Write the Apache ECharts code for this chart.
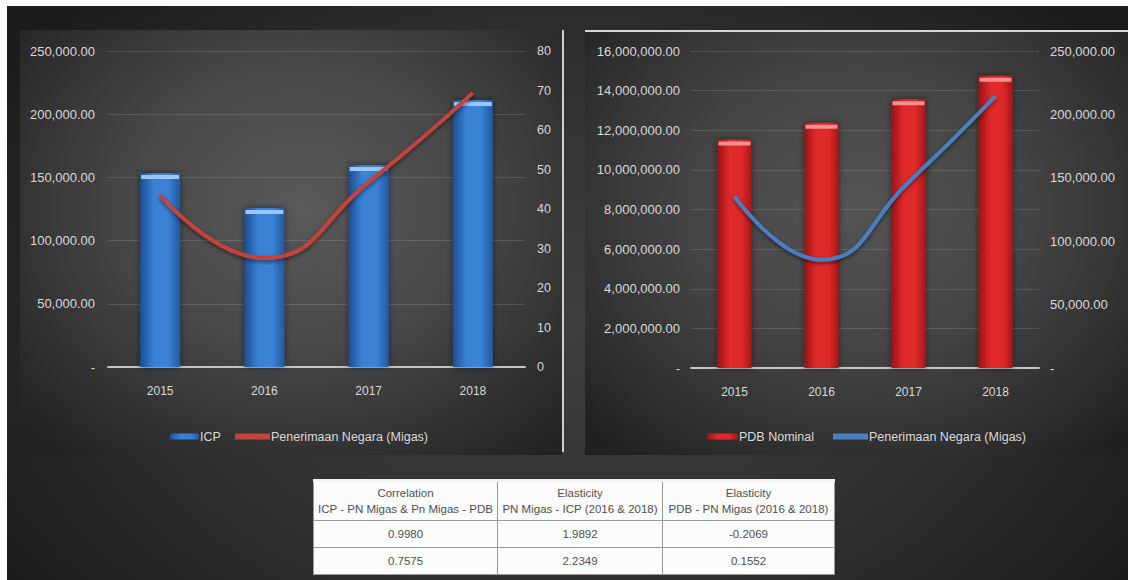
<!DOCTYPE html>
<html>
<head>
<meta charset="utf-8">
<title>ICP, PDB Nominal &amp; Penerimaan Negara (Migas)</title>
<script src="https://cdn.jsdelivr.net/npm/echarts@6/dist/echarts.min.js"></script>
<style>
  html, body { margin: 0; padding: 0; background: #ffffff; }
  #stage { position: absolute; left: 0; top: 0; width: 1128px; height: 580px; overflow: hidden; background: #ffffff; }
  #backdrop {
    position: absolute; left: 7px; top: 6px; width: 1121px; height: 574px;
    background: radial-gradient(ellipse 60% 80% at 50% 55%, #3e3e3e 0%, #313131 55%, #1c1c1c 100%);
  }
  #panelL {
    position: absolute; left: 20px; top: 30px; width: 542px; height: 425px;
    background: radial-gradient(ellipse 70% 75% at 52% 42%, #595959 0%, #484848 45%, #2f2f2f 80%, #222222 100%);
  }
  #dividerL { position: absolute; left: 562px; top: 30px; width: 2px; height: 422px; background: #cfcfcf; }
  #panelR {
    position: absolute; left: 585px; top: 30px; width: 543px; height: 425px;
    border-top: 2px solid #d6d6d6; box-sizing: border-box;
    background: radial-gradient(ellipse 70% 75% at 50% 42%, #545454 0%, #444444 45%, #2e2e2e 80%, #202020 100%);
  }
  #chart { position: absolute; left: 0; top: 0; width: 1128px; height: 580px; }
  #stats {
    position: absolute; left: 313px; top: 479px; width: 521px;
    border-collapse: collapse; background: #fbfbfb; table-layout: fixed;
    border-top: 3px solid #f2f2f2;
    font-family: 'Liberation Sans', Arial, sans-serif;
    font-size: 11.5px; color: #505050; text-align: center; white-space: nowrap;
  }
  #stats td { border: 1px solid #9a9a9a; padding: 0; overflow: hidden; }
  #stats td.head { height: 38px; line-height: 16px; }
  #stats td.val { height: 26px; }
</style>
</head>
<body>
<div id="stage">
  <div id="backdrop"></div>
  <div id="panelL"></div>
  <div id="dividerL"></div>
  <div id="panelR"></div>
  <div id="chart"></div>
  <table id="stats"></table>
</div>
<script>
// Years on the category axes
const years = ['2015', '2016', '2017', '2018'];

// Left chart: ICP bars (left axis) and Penerimaan Negara (Migas) line (right axis)
const icpValues = [153500, 125800, 159800, 211200];
const migasLeftValues = [43.5, 27.6, 46.8, 69.4];

// Right chart: PDB Nominal bars (left axis) and Penerimaan Negara (Migas) line (right axis)
const pdbValues = [11530000, 12380000, 13560000, 14750000];
const migasRightValues = [135300, 85400, 146500, 214400];

// Axis ranges
const icpAxis = { min: 0, max: 250000, interval: 50000 };
const migasLeftAxis = { min: 0, max: 80, interval: 10 };
const pdbAxis = { min: 0, max: 16000000, interval: 2000000 };
const migasRightAxis = { min: 0, max: 250000, interval: 50000 };

// Statistics table
const tableHeads = [
  ['Correlation', 'ICP - PN Migas & Pn Migas - PDB'],
  ['Elasticity', 'PN Migas - ICP (2016 & 2018)'],
  ['Elasticity', 'PDB - PN Migas (2016 & 2018)']
];
const tableRows = [
  ['0.9980', '1.9892', '-0.2069'],
  ['0.7575', '2.2349', '0.1552']
];
const tableColWidths = [184, 165, 172];

const FONT = "'Liberation Sans', Arial, sans-serif";
const TEXT = '#d9d9d9';

function money(v) {
  if (v === 0) return '-';
  return v.toLocaleString('en-US', { minimumFractionDigits: 2, maximumFractionDigits: 2 });
}

function barGradient(edgeL, mid, edgeR) {
  return new echarts.graphic.LinearGradient(0, 0, 1, 0, [
    { offset: 0, color: edgeL },
    { offset: 0.35, color: mid },
    { offset: 0.7, color: mid },
    { offset: 1, color: edgeR }
  ]);
}

const blueBar = barGradient('#1d4e8f', '#3a82d6', '#2458a0');
const redBar = barGradient('#9a1212', '#e02a2a', '#a81616');

function xAxisFor(gridIndex) {
  return {
    type: 'category', gridIndex: gridIndex, data: years,
    axisLine: { lineStyle: { color: '#c4c4c4', width: 2 } },
    axisTick: { show: false },
    axisLabel: { color: TEXT, fontSize: 12, fontFamily: FONT, margin: 18 }
  };
}

function yAxisFor(gridIndex, range, side, margin, grid, fmt, size) {
  return {
    type: 'value', gridIndex: gridIndex, position: side,
    min: range.min, max: range.max, interval: range.interval,
    axisLine: { show: false }, axisTick: { show: false },
    axisLabel: { color: TEXT, fontSize: size, fontFamily: FONT, margin: margin, formatter: fmt },
    splitLine: { show: grid, lineStyle: { color: 'rgba(255,255,255,0.13)', width: 1 } }
  };
}

function legendAt(left, name, icon, width) {
  return {
    left: left, top: 425, itemWidth: width, itemHeight: 6, itemGap: 0,
    textStyle: { color: TEXT, fontSize: 12.5, fontFamily: FONT, padding: [0, 0, 0, -4] },
    data: [{ name: name, icon: icon }]
  };
}

const lineShadow = { shadowBlur: 4, shadowColor: 'rgba(0,0,0,0.55)', shadowOffsetY: 2 };

const option = {
  animation: false,
  backgroundColor: 'transparent',
  textStyle: { fontFamily: FONT },
  grid: [
    { left: 108, top: 51, width: 417, height: 316 },
    { left: 691, top: 51, width: 348, height: 317 }
  ],
  xAxis: [xAxisFor(0), xAxisFor(1)],
  yAxis: [
    yAxisFor(0, icpAxis, 'left', 13, true, money, 13),
    yAxisFor(0, migasLeftAxis, 'right', 12, false, v => String(v), 12.5),
    yAxisFor(1, pdbAxis, 'left', 11, true, money, 13),
    yAxisFor(1, migasRightAxis, 'right', 11, false, money, 13)
  ],
  legend: [
    legendAt(165, 'ICP', 'roundRect', 29),
    legendAt(230, 'Penerimaan Negara (Migas)', 'rect', 35),
    legendAt(702, 'PDB Nominal', 'roundRect', 31),
    legendAt(828, 'Penerimaan Negara (Migas) ', 'rect', 35)
  ],
  series: [
    {
      name: 'ICP', type: 'bar', xAxisIndex: 0, yAxisIndex: 0, data: icpValues,
      barWidth: 40,
      itemStyle: { color: blueBar, shadowBlur: 6, shadowColor: 'rgba(0,0,0,0.5)' }
    },
    {
      name: 'ICP cap', type: 'pictorialBar', xAxisIndex: 0, yAxisIndex: 0, data: icpValues,
      symbol: 'rect', symbolSize: [38, 4], symbolPosition: 'end', symbolOffset: [0, '50%'],
      itemStyle: { color: '#9cc6f4' }, silent: true, z: 3
    },
    {
      name: 'Penerimaan Negara (Migas)', type: 'line', xAxisIndex: 0, yAxisIndex: 1,
      data: migasLeftValues, smooth: 0.5, symbol: 'none',
      itemStyle: { color: '#c6433d' },
      lineStyle: Object.assign({ color: '#c6433d', width: 4 }, lineShadow), z: 4
    },
    {
      name: 'PDB Nominal', type: 'bar', xAxisIndex: 1, yAxisIndex: 2, data: pdbValues,
      barWidth: 34,
      itemStyle: { color: redBar, shadowBlur: 6, shadowColor: 'rgba(0,0,0,0.5)' }
    },
    {
      name: 'PDB cap', type: 'pictorialBar', xAxisIndex: 1, yAxisIndex: 2, data: pdbValues,
      symbol: 'rect', symbolSize: [32, 4], symbolPosition: 'end', symbolOffset: [0, '50%'],
      itemStyle: { color: '#f29090' }, silent: true, z: 3
    },
    {
      name: 'Penerimaan Negara (Migas) ', type: 'line', xAxisIndex: 1, yAxisIndex: 3,
      data: migasRightValues, smooth: 0.5, symbol: 'none',
      itemStyle: { color: '#4a7fc1' },
      lineStyle: Object.assign({ color: '#4a7fc1', width: 4 }, lineShadow), z: 4
    }
  ]
};

const chart = echarts.init(document.getElementById('chart'), null, { renderer: 'svg' });
chart.setOption(option);

// Statistics table built from the arrays above
const table = document.getElementById('stats');
const colgroup = document.createElement('colgroup');
tableColWidths.forEach(w => {
  const col = document.createElement('col');
  col.style.width = w + 'px';
  colgroup.appendChild(col);
});
table.appendChild(colgroup);
const headRow = document.createElement('tr');
tableHeads.forEach(lines => {
  const td = document.createElement('td');
  td.className = 'head';
  lines.forEach((s, i) => {
    if (i) td.appendChild(document.createElement('br'));
    td.appendChild(document.createTextNode(s));
  });
  headRow.appendChild(td);
});
table.appendChild(headRow);
tableRows.forEach(row => {
  const tr = document.createElement('tr');
  row.forEach(cell => {
    const td = document.createElement('td');
    td.className = 'val';
    td.textContent = cell;
    tr.appendChild(td);
  });
  table.appendChild(tr);
});
</script>
</body>
</html>
